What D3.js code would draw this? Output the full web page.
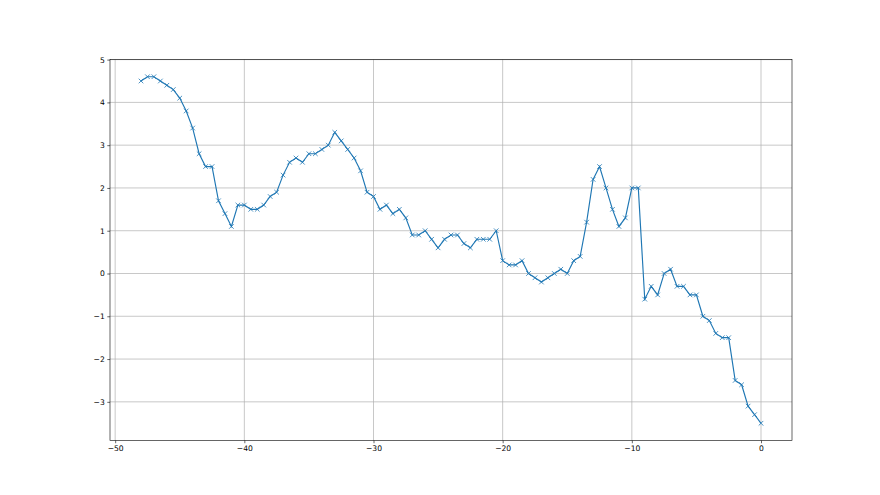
<!DOCTYPE html>
<meta charset="utf-8">
<script src="https://d3js.org/d3.v7.min.js"></script>
<style>
body { margin: 0; background: #fff; }
.tick text { font-family: "DejaVu Sans", sans-serif; font-size: 7.6px; fill: #000; }
</style>
<body>
<div id="chart"></div>
<script>
// x positions: -48 .. 0 in half steps
var xs = [-48, -47.5, -47, -46.5, -46, -45.5, -45, -44.5, -44, -43.5, -43, -42.5, -42, -41.5, -41, -40.5,
  -40, -39.5, -39, -38.5, -38, -37.5, -37, -36.5, -36, -35.5, -35, -34.5, -34, -33.5, -33, -32.5,
  -32, -31.5, -31, -30.5, -30, -29.5, -29, -28.5, -28, -27.5, -27, -26.5, -26, -25.5, -25, -24.5,
  -24, -23.5, -23, -22.5, -22, -21.5, -21, -20.5, -20, -19.5, -19, -18.5, -18, -17.5, -17, -16.5,
  -16, -15.5, -15, -14.5, -14, -13.5, -13, -12.5, -12, -11.5, -11, -10.5, -10, -9.5, -9, -8.5,
  -8, -7.5, -7, -6.5, -6, -5.5, -5, -4.5, -4, -3.5, -3, -2.5, -2, -1.5, -1, -0.5, 0];

var ys = [4.5, 4.6, 4.6, 4.5, 4.4, 4.3, 4.1, 3.8, 3.4, 2.8, 2.5, 2.5, 1.7, 1.4, 1.1, 1.6,
  1.6, 1.5, 1.5, 1.6, 1.8, 1.9, 2.3, 2.6, 2.7, 2.6, 2.8, 2.8, 2.9, 3.0, 3.3, 3.1,
  2.9, 2.7, 2.4, 1.9, 1.8, 1.5, 1.6, 1.4, 1.5, 1.3, 0.9, 0.9, 1.0, 0.8, 0.6, 0.8,
  0.9, 0.9, 0.7, 0.6, 0.8, 0.8, 0.8, 1.0, 0.3, 0.2, 0.2, 0.3, 0.0, -0.1, -0.2, -0.1,
  0.0, 0.1, 0.0, 0.3, 0.4, 1.2, 2.2, 2.5, 2.0, 1.5, 1.1, 1.3, 2.0, 2.0, -0.6, -0.3,
  -0.5, 0.0, 0.1, -0.3, -0.3, -0.5, -0.5, -1.0, -1.1, -1.4, -1.5, -1.5, -2.5, -2.6, -3.1, -3.3, -3.5];

var xTicks = [-50, -40, -30, -20, -10, 0];
var yTicks = [-3, -2, -1, 0, 1, 2, 3, 4, 5];

var W = 880, H = 495;
var margin = {top: 59.4, right: 88, bottom: 54.45, left: 110},
    width = W - margin.left - margin.right,
    height = H - margin.top - margin.bottom;

var data = xs.map(function(x, i) { return {x: x, y: ys[i]}; });

var svg = d3.select("#chart").append("svg")
    .attr("width", W)
    .attr("height", H)
  .append("g")
    .attr("transform", "translate(" + margin.left + "," + margin.top + ")");

// matplotlib style 5% margins
var xmin = d3.min(xs), xmax = d3.max(xs), xpad = (xmax - xmin) * 0.05;
var ymin = d3.min(ys), ymax = d3.max(ys), ypad = (ymax - ymin) * 0.05;

var x = d3.scaleLinear().domain([xmin - xpad, xmax + xpad]).range([0, width]);
var y = d3.scaleLinear().domain([ymin - ypad, ymax + ypad]).range([height, 0]);

// grid
svg.append("g").selectAll("line").data(xTicks).enter().append("line")
    .attr("x1", function(d) { return x(d); }).attr("x2", function(d) { return x(d); })
    .attr("y1", 0).attr("y2", height)
    .attr("stroke", "#b0b0b0").attr("stroke-width", 0.7);
svg.append("g").selectAll("line").data(yTicks).enter().append("line")
    .attr("y1", function(d) { return y(d); }).attr("y2", function(d) { return y(d); })
    .attr("x1", 0).attr("x2", width)
    .attr("stroke", "#b0b0b0").attr("stroke-width", 0.7);

// axes
var fmt = function(d) { return d < 0 ? "\u2212" + Math.abs(d) : d; };
var xAxis = svg.append("g")
    .attr("transform", "translate(0," + height + ")")
    .call(d3.axisBottom(x).tickValues(xTicks).tickSize(2.7).tickPadding(2.5).tickFormat(fmt));
var yAxis = svg.append("g")
    .call(d3.axisLeft(y).tickValues(yTicks).tickSize(2.7).tickPadding(2.5).tickFormat(fmt));
[xAxis, yAxis].forEach(function(a) {
  a.select(".domain").remove();
  a.selectAll(".tick line").attr("stroke", "#000").attr("stroke-width", 0.6);
});

// frame
svg.append("rect")
    .attr("width", width).attr("height", height)
    .attr("fill", "none").attr("stroke", "#000").attr("stroke-width", 0.6);

// line
var line = d3.line()
    .x(function(d) { return x(d.x); })
    .y(function(d) { return y(d.y); });
svg.append("path")
    .datum(data)
    .attr("fill", "none")
    .attr("stroke", "#1f77b4")
    .attr("stroke-width", 1.15)
    .attr("d", line);

// x markers
var m = 2.3;
svg.append("g").selectAll("path.mk").data(data).enter().append("path")
    .attr("class", "mk")
    .attr("d", function(d) {
      var cx = x(d.x), cy = y(d.y);
      return "M" + (cx - m) + "," + (cy - m) + "L" + (cx + m) + "," + (cy + m) +
             "M" + (cx - m) + "," + (cy + m) + "L" + (cx + m) + "," + (cy - m);
    })
    .attr("stroke", "#1f77b4")
    .attr("stroke-width", 0.8)
    .attr("fill", "none");
</script>
</body>
